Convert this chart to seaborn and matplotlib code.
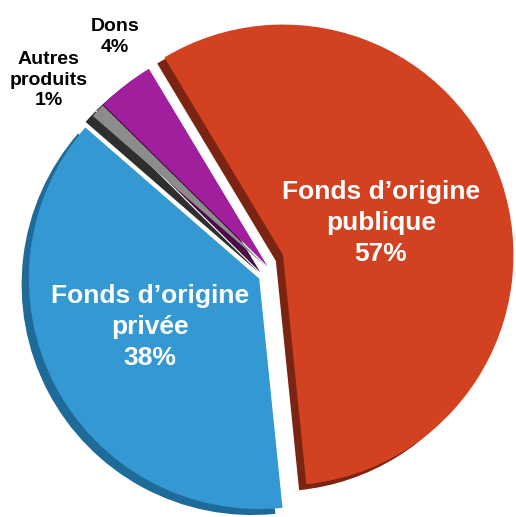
import numpy as np
import matplotlib.pyplot as plt
import seaborn as sns

# données (ordre horaire à partir du haut)
labels = ["Fonds d\u2019origine\npublique", "Fonds d\u2019origine\nprivée", "Autres\nproduits", "Dons"]
values = [57, 38, 1, 4]
colors = ["#D24220", "#3498D3", "#8C8C8C", "#A11E9C"]
dark_colors = ["#7C2412", "#1E6A98", "#2E2E2E", "#4A0C45"]
explode = [0.07, 0.06, 0.03, 0.03]

sns.set_theme(style="white")
plt.rcParams['font.family'] = ['Liberation Sans', 'DejaVu Sans']

fig = plt.figure(figsize=(5.16, 5.17), dpi=100)
ax = fig.add_axes([0, 0, 1, 1])

R = 0.96
start = 121
shadow = (-0.03, -0.025)
red_center = (0.046, 0.071)  # le secteur public est décalé vers le haut (perspective)

# ombre (effet 3D)
sh, _ = ax.pie(values, colors=dark_colors, explode=explode, startangle=start,
               counterclock=False, radius=R, center=shadow,
               wedgeprops=dict(linewidth=0))
# secteurs
wedges, _ = ax.pie(values, colors=colors, explode=explode, startangle=start,
                   counterclock=False, radius=R, center=(0, 0),
                   wedgeprops=dict(linewidth=0))
wedges[0].set_center(red_center)
sh[0].set_center((red_center[0] + shadow[0], red_center[1] + shadow[1]))

pct = [f"{v}%" for v in values]
ax.text(0.454, 0.204, f"{labels[0]}\n{pct[0]}", color="white", fontsize=19,
        fontweight="bold", ha="center", va="center", linespacing=1.35)
ax.text(-0.508, -0.229, f"{labels[1]}\n{pct[1]}", color="white", fontsize=19,
        fontweight="bold", ha="center", va="center", linespacing=1.35)
ax.text(-0.93, 0.80, f"{labels[2]}\n{pct[2]}", color="black", fontsize=14,
        fontweight="bold", ha="center", va="center", linespacing=1.3)
ax.text(-0.654, 0.979, f"{labels[3]}\n{pct[3]}", color="black", fontsize=14,
        fontweight="bold", ha="center", va="center", linespacing=1.3)

ax.set_xlim(-272 / 240, (516 - 272) / 240)
ax.set_ylim(-(517 - 272) / 240, 272 / 240)
ax.set_aspect("equal")
ax.axis("off")

fig.savefig("out.png", dpi=100)
